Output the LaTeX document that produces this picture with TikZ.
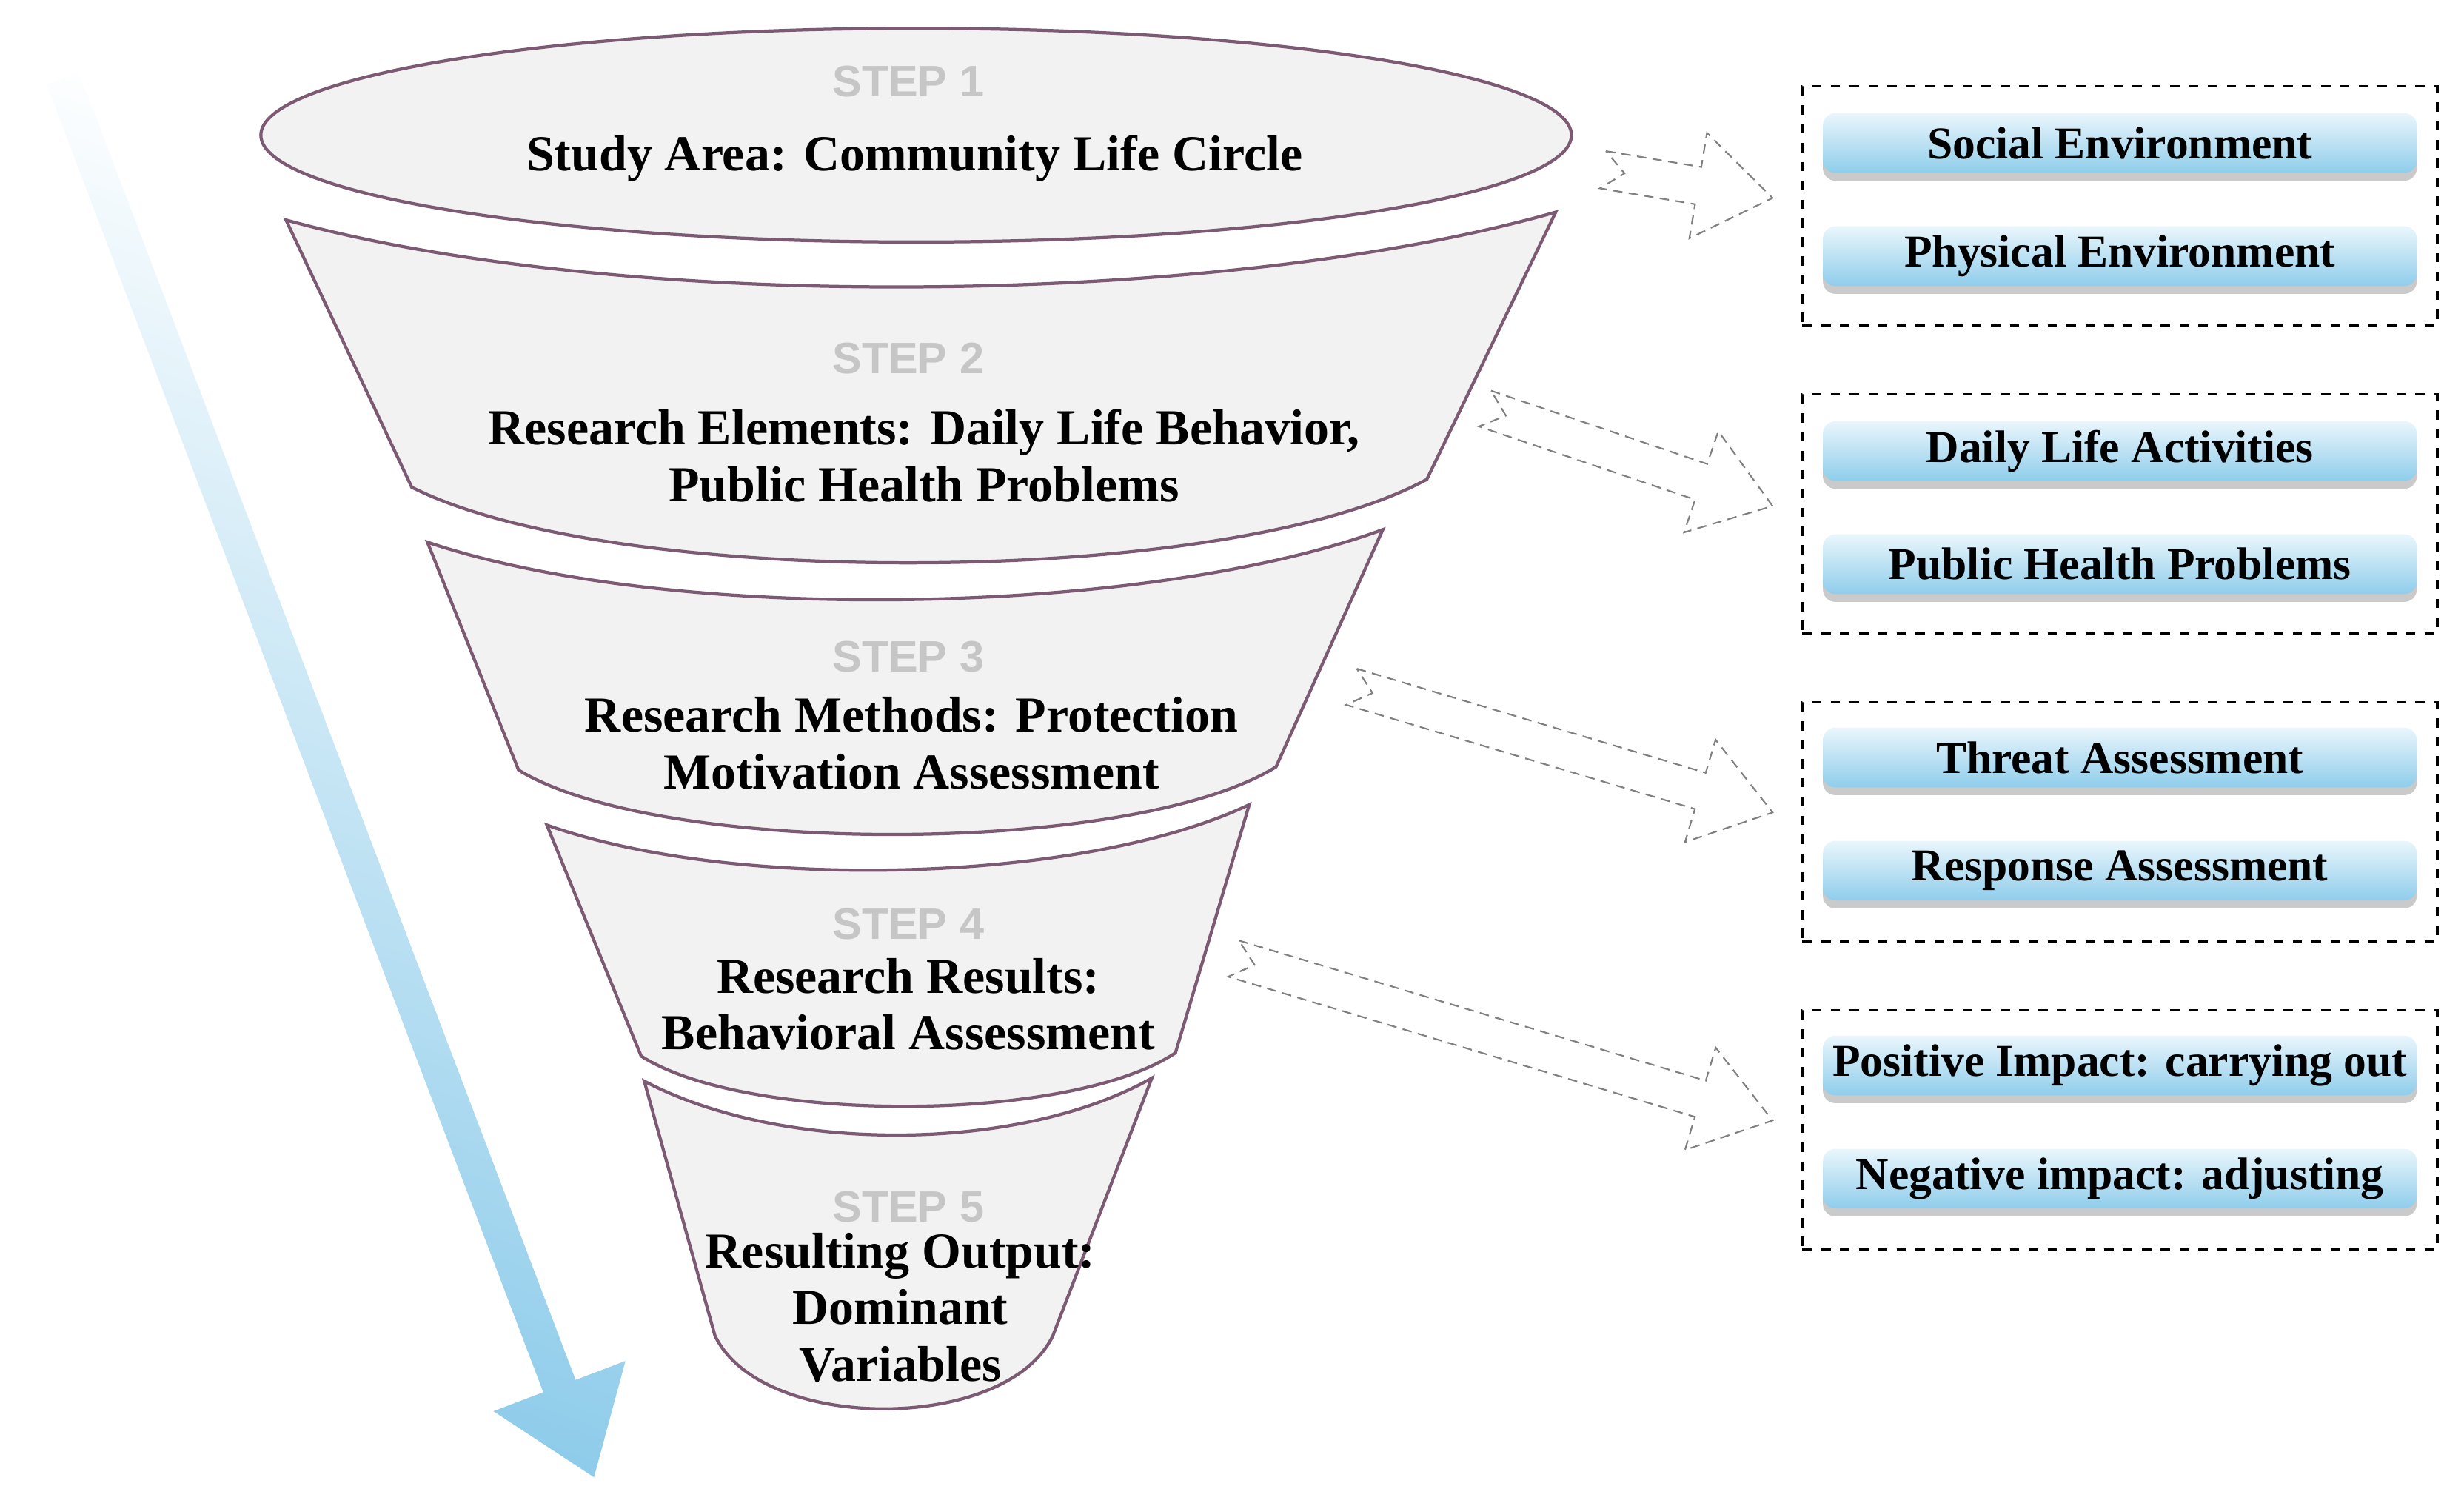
\documentclass[tikz,border=0pt]{standalone}
\usepackage{fontspec}
\setmainfont{Liberation Serif}
\newfontfamily\stepfont{Liberation Sans}
\usetikzlibrary{positioning,calc,shadows}
\definecolor{rim}{HTML}{7D5A73}
\definecolor{barlo}{HTML}{8FCDEB}
\definecolor{barhi}{HTML}{EAF6FC}
\definecolor{arrlo}{HTML}{8CCBEA}
\newcommand{\hollowarrow}[2]{%
  \coordinate (hh) at ($(#2)!24pt!(#1)$);
  \draw[hollow] ($(#1)!6pt!90:(#2)$) -- ($(hh)!6pt!-90:(#1)$) -- ($(hh)!17pt!-90:(#1)$)
    -- (#2) -- ($(hh)!17pt!90:(#1)$) -- ($(hh)!6pt!90:(#1)$) -- ($(#1)!6pt!-90:(#2)$)
    -- ($(#1)!7pt!(#2)$) -- cycle;}
\begin{document}
\begin{tikzpicture}[x=0.5pt,y=-0.5pt]
  \tikzstyle{band}=[fill=gray!10,draw=rim,line width=1pt]
  \tikzstyle{steplbl}=[font=\stepfont\bfseries\fontsize{14}{14}\selectfont,text=gray!45]
  \tikzstyle{lbl}=[font=\bfseries\fontsize{16}{18}\selectfont,align=center]
  \tikzstyle{bar}=[rounded corners=4pt,minimum width=189pt,minimum height=19pt,inner sep=0,
                   top color=barhi,bottom color=barlo,draw=none,
                   drop shadow={shadow xshift=0pt,shadow yshift=-2.5pt,fill=gray!70,opacity=.6},
                   font=\bfseries\fontsize{14.5}{14.5}\selectfont]
  \tikzstyle{group}=[draw,dashed,line width=0.8pt,minimum width=202pt,minimum height=76pt]
  \tikzstyle{hollow}=[draw=gray,densely dashed,line width=0.5pt,fill=white]
  \useasboundingbox (0,0) rectangle (1568,958);
  % big arrow on the left
  \shade[top color=white,bottom color=arrlo,shading angle=-20]
    (50.3,46.1) -- (366.3,878.1) -- (398,866) -- (378,940) -- (314,898)
    -- (345.7,885.9) -- (29.7,53.9) -- cycle;
  % funnel
  \draw[band] (182,140) .. controls (400,200) and (780,195) .. (990,135)
    -- (908,305) .. controls (780,375) and (390,375) .. (262,310) -- cycle;
  \draw[band] (272,345) .. controls (430,398) and (730,392) .. (880,337)
    -- (812,488) .. controls (720,545) and (420,545) .. (330,490) -- cycle;
  \draw[band] (348,525) .. controls (470,568) and (690,562) .. (795,512)
    -- (748,670) .. controls (680,715) and (475,715) .. (408,672) -- cycle;
  \draw[band] (410,688) .. controls (500,735) and (650,733) .. (733,686)
    -- (670,850) .. controls (640,912) and (485,912) .. (455,850) -- cycle;
  \draw[band] (583,86) ellipse [x radius=417,y radius=68];
  % step labels
  \node[steplbl] (s1) at (578,52) {STEP 1};
  \node[lbl] (t1) at (582,101) {Study Area: Community Life Circle};
  \node[steplbl] (s2) at (578,228) {STEP 2};
  \node[lbl] (t2) at (588,290) {Research Elements: Daily Life Behavior,\\Public Health Problems};
  \node[steplbl] (s3) at (578,418) {STEP 3};
  \node[lbl] (t3) at (580,473) {Research Methods: Protection\\Motivation Assessment};
  \node[steplbl] (s4) at (578,588) {STEP 4};
  \node[lbl] (t4) at (578,639) {Research Results:\\Behavioral Assessment};
  \node[steplbl] (s5) at (578,768) {STEP 5};
  \node[lbl] (t5) at (573,832) {Resulting Output:\\Dominant\\Variables};
  % groups on the right
  \node[group] (g1) at (1349,131) {};
  \node[group] (g2) at (1349,327) {};
  \node[group] (g3) at (1349,523) {};
  \node[group] (g4) at (1349,719) {};
  \node[bar] (b1) at (1349,91) {Social Environment};
  \node[bar] (b2) at (1349,163) {Physical Environment};
  \node[bar] (b3) at (1349,287) {Daily Life Activities};
  \node[bar] (b4) at (1349,359) {Public Health Problems};
  \node[bar] (b5) at (1349,482) {Threat Assessment};
  \node[bar] (b6) at (1349,554) {Response Assessment};
  \node[bar] (b7) at (1349,678) {Positive Impact: carrying out};
  \node[bar] (b8) at (1349,750) {Negative impact: adjusting};
  % hollow arrows
  \coordinate (a1) at (1020,108); \coordinate (e1) at (1128,126);
  \coordinate (a2) at (945,260);  \coordinate (e2) at (1128,322);
  \coordinate (a3) at (860,437);  \coordinate (e3) at (1128,517);
  \coordinate (a4) at (785,610);  \coordinate (e4) at (1128,713);
  \foreach \i in {1,...,4} {\hollowarrow{a\i}{e\i}}
\end{tikzpicture}
\end{document}
